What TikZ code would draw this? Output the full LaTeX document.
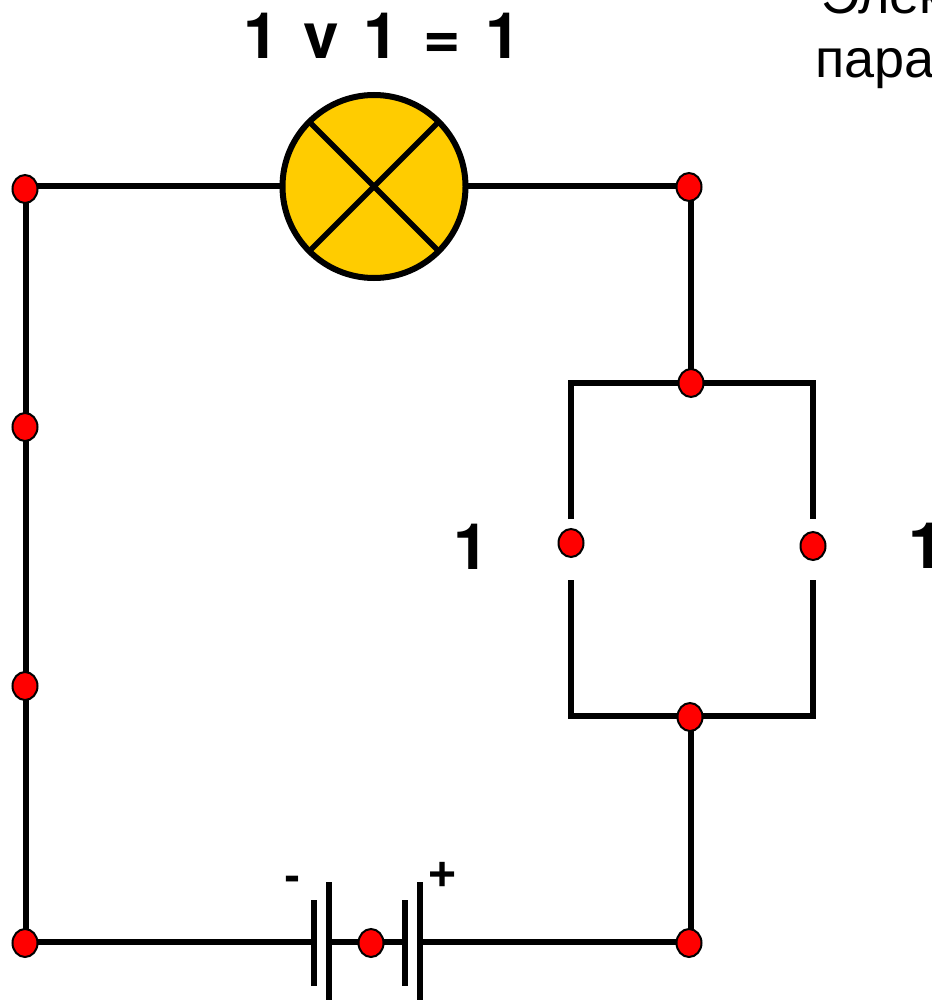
\documentclass[tikz,border=0pt]{standalone}
\usepackage{fontspec}
\setmainfont{Liberation Sans}
\newfontfamily\heros{TeX Gyre Heros}
\usetikzlibrary{shapes.geometric,backgrounds}
\definecolor{lampyellow}{HTML}{FFCC00}
\tikzset{
  dot/.style={ellipse,draw=black,fill=red,line width=2pt,inner sep=0pt,outer sep=0pt,minimum width=25pt,minimum height=28pt},
  wire/.style={draw=black,line width=6pt,line join=miter},
  lamp/.style={circle,draw=black,fill=lampyellow,line width=6pt,inner sep=0pt,outer sep=0pt,minimum size=183pt},
  plate/.style={fill=black,inner sep=0pt,outer sep=0pt,minimum width=6pt},
  shortplate/.style={plate,minimum height=86pt},
  longplate/.style={plate,minimum height=118pt},
  big/.style={inner sep=0pt,outer sep=0pt,anchor=base west,font=\heros\fontsize{64}{64}\bfseries\selectfont},
  note/.style={inner sep=0pt,outer sep=0pt,anchor=base west,font=\fontsize{54}{54}\selectfont},
  pol/.style={inner sep=0pt,outer sep=0pt,anchor=base west,font=\fontsize{48}{48}\bfseries\selectfont}
}
\begin{document}
\begin{tikzpicture}[x=1pt,y=-1pt]
\useasboundingbox (0,0) rectangle (931,1000);
\clip (0,0) rectangle (931,1000);
% corners
\coordinate (cTL) at (26,186);
\coordinate (cTR) at (691,186);
\coordinate (cBL) at (26,942);
\coordinate (cBR) at (691,942);
\coordinate (pTL) at (571,383);
\coordinate (pTR) at (813,383);
\coordinate (pBL) at (571,716);
\coordinate (pBR) at (813,716);
\coordinate (aTop) at (571,519);
\coordinate (aBot) at (571,580);
\coordinate (bTop) at (813,519);
\coordinate (bBot) at (813,580);
% lamp
\node[lamp] (L) at (374,186.5) {};
\draw[line width=5.5pt] (L.north west) -- (L.south east);
\draw[line width=5.5pt] (L.north east) -- (L.south west);
% battery
\node[shortplate] (b1) at (314,943) {};
\node[longplate] (b2) at (329,941) {};
\node[shortplate] (b3) at (405,943) {};
\node[longplate] (b4) at (420,941) {};
% junctions
\node[dot] (d1) at (25,189) {};
\node[dot] (d2) at (689,187) {};
\node[dot] (d3) at (691,383) {};
\node[dot] (d4) at (25,427) {};
\node[dot] (d5) at (571,543) {};
\node[dot] (d6) at (813,546) {};
\node[dot] (d7) at (25,686) {};
\node[dot] (d8) at (690,717) {};
\node[dot] (d9) at (25,943) {};
\node[dot] (d10) at (371,943) {};
\node[dot] (d11) at (689,943) {};
% wires
\begin{scope}[on background layer]
\draw[wire] (L.west) -- (L.west -| cTL) -- (cBL) -- (b1.west |- cBL);
\draw[wire] (L.east) -- (L.east -| cTR) -- (d3.center);
\draw[wire] (aTop) -- (pTL) -- (pTR) -- (bTop);
\draw[wire] (aBot) -- (pBL) -- (pBR) -- (bBot);
\draw[wire] (d8.center |- pBL) -- (cBR |- pBL) -- (cBR) -- (b4.east |- cBR);
\draw[wire] (b2.east |- cBL) -- (b3.west |- cBL);
\end{scope}
% texts
\spaceskip=24.5pt
\node[big] (t1) at (243,59) {1 v 1 = 1};
\node[big] (t2) at (453.5,569) {1};
\node[big] (t3) at (908,568) {1};
\node[note] (n1) at (821,14) {Элек};
\node[note] (n2) at (815,78) {пара};
\node[pol] (minus) at (284,891) {-};
\node[pol] (plus) at (428,890) {+};
\end{tikzpicture}
\end{document}
